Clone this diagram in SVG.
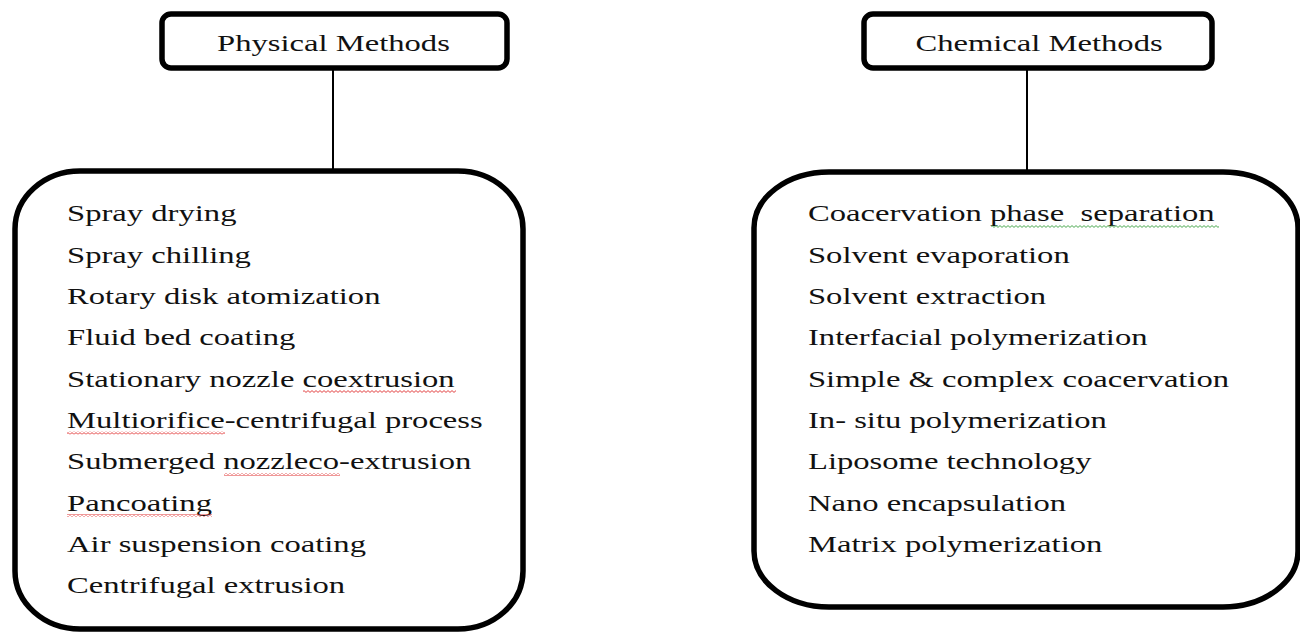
<svg xmlns="http://www.w3.org/2000/svg" width="1300" height="634" viewBox="0 0 1300 634">
<style>
  .hdr { fill: #ffffff; stroke: #000000; stroke-width: 5.5; }
  .big { fill: #ffffff; stroke: #000000; stroke-width: 5.5; }
  .conn { stroke: #000000; stroke-width: 2; fill: none; }
  .t { font-family: "Liberation Serif", "Times New Roman", serif; font-size: 24px; fill: #111111; white-space: pre; }
  .hc { text-anchor: middle; }
</style>
<defs>
  <pattern id="wavyRed" width="4" height="3" patternUnits="userSpaceOnUse">
    <path d="M0,0.6 L2,2.4 L4,0.6" stroke="#e03030" stroke-width="0.9" fill="none"/>
  </pattern>
  <pattern id="wavyGreen" width="4" height="3" patternUnits="userSpaceOnUse">
    <path d="M0,0.6 L2,2.4 L4,0.6" stroke="#3aa040" stroke-width="0.9" fill="none"/>
  </pattern>
</defs>
<rect x="0" y="0" width="1300" height="634" fill="#ffffff"/>

<g id="connectors">
  <line class="conn" x1="333" y1="68" x2="333" y2="171"/>
  <line class="conn" x1="1027" y1="68" x2="1027" y2="172"/>
</g>

<g id="physical-header">
  <rect class="hdr" x="162" y="14" width="345" height="54" rx="9" ry="9"/>
  <text class="t hc" transform="scale(1.36,1)" x="245.2" y="51">Physical Methods</text>
</g>

<g id="chemical-header">
  <rect class="hdr" x="864" y="14" width="348" height="54" rx="9" ry="9"/>
  <text class="t hc" transform="scale(1.36,1)" x="764" y="51">Chemical Methods</text>
</g>

<g id="physical-list">
  <rect class="big" x="15" y="171" width="508" height="458" rx="65" ry="58"/>
  <g transform="scale(1.36,1)">
    <text class="t" x="49.3" y="221.5">Spray drying</text>
    <text class="t" x="49.3" y="262.8">Spray chilling</text>
    <text class="t" x="49.3" y="304.1">Rotary disk atomization</text>
    <text class="t" x="49.3" y="345.4">Fluid bed coating</text>
    <text class="t" x="49.3" y="386.7">Stationary nozzle coextrusion</text>
    <text class="t" x="49.3" y="428">Multiorifice-centrifugal process</text>
    <text class="t" x="49.3" y="469.3">Submerged nozzleco-extrusion</text>
    <text class="t" x="49.3" y="510.6">Pancoating</text>
    <text class="t" x="49.3" y="551.9">Air suspension coating</text>
    <text class="t" x="49.3" y="593.2">Centrifugal extrusion</text>
  </g>
  <rect x="303" y="390" width="153" height="3" fill="url(#wavyRed)"/>
  <rect x="67" y="431.5" width="158" height="3" fill="url(#wavyRed)"/>
  <rect x="224" y="473" width="116" height="3" fill="url(#wavyRed)"/>
  <rect x="67" y="514" width="145" height="3" fill="url(#wavyRed)"/>
</g>

<g id="chemical-list">
  <rect class="big" x="754" y="172" width="544" height="435" rx="75" ry="56"/>
  <g transform="scale(1.36,1)">
    <text class="t" x="594.1" y="221.5">Coacervation phase  separation</text>
    <text class="t" x="594.1" y="262.8">Solvent evaporation</text>
    <text class="t" x="594.1" y="304.1">Solvent extraction</text>
    <text class="t" x="594.1" y="345.4">Interfacial polymerization</text>
    <text class="t" x="594.1" y="386.7">Simple &amp; complex coacervation</text>
    <text class="t" x="594.1" y="428">In- situ polymerization</text>
    <text class="t" x="594.1" y="469.3">Liposome technology</text>
    <text class="t" x="594.1" y="510.6">Nano encapsulation</text>
    <text class="t" x="594.1" y="551.9">Matrix polymerization</text>
  </g>
  <rect x="991" y="225" width="228" height="3" fill="url(#wavyGreen)"/>
</g>
</svg>
